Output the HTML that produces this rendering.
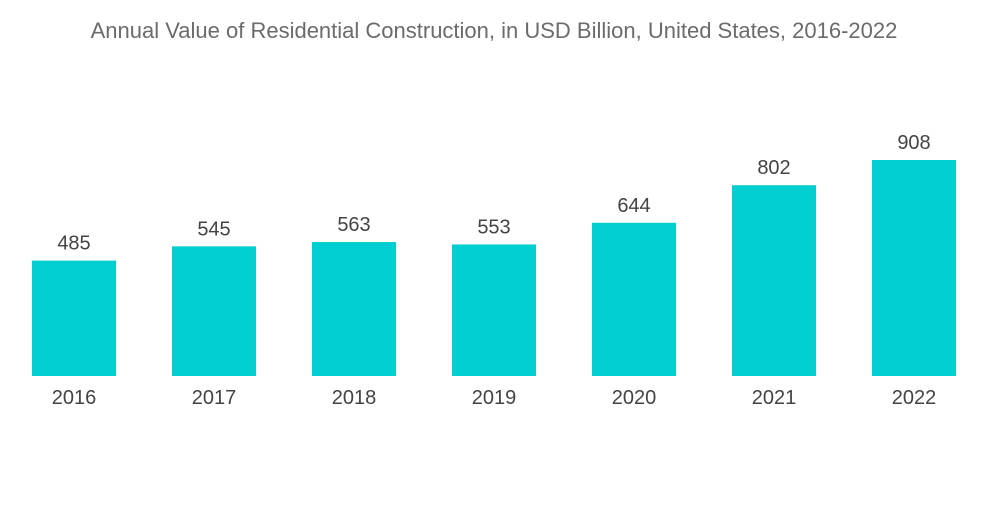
<!DOCTYPE html>
<html><head><meta charset="utf-8">
<style>
html,body{margin:0;padding:0;background:#fff;}
body{width:1000px;height:504px;overflow:hidden;font-family:"Liberation Sans",sans-serif;}
</style></head>
<body>
<svg id="chart" width="1000" height="504" xmlns="http://www.w3.org/2000/svg">
<text x="494" y="38" text-anchor="middle" font-family="Liberation Sans, sans-serif" font-size="22" fill="#6b6b6b">Annual Value of Residential Construction, in USD Billion, United States, 2016-2022</text>
<g id="bars"></g>
</svg>
<script>
const categories = ["2016","2017","2018","2019","2020","2021","2022"];
const values = [485,545,563,553,644,802,908];
const labels = ["485","545","563","553","644","802","908"];

const baseY = 376, topY = 160, maxV = 908;
function y(v){ return baseY - (v/maxV)*(baseY-topY); }
function x(i){ return 32 + i*140; }
const bw = 84;
const g = document.getElementById('bars');
const NS = "http://www.w3.org/2000/svg";
categories.forEach((c,i)=>{
  const r = document.createElementNS(NS,'rect');
  
  
  r.setAttribute('x', x(i)); r.setAttribute('y', y(values[i]));
  r.setAttribute('width', bw); r.setAttribute('height', baseY - y(values[i]));
  r.setAttribute('fill', '#00ced1');
  g.appendChild(r);
  const t = document.createElementNS(NS,'text');
  
  
  t.setAttribute('x', x(i)+bw/2); t.setAttribute('y', y(values[i]) - 11);
  t.setAttribute('text-anchor','middle'); t.setAttribute('font-size','20');
  t.setAttribute('fill','#444');
  t.textContent = labels[i];
  g.appendChild(t);
  const xl = document.createElementNS(NS,'text');
  
  
  xl.setAttribute('x', x(i)+bw/2); xl.setAttribute('y', 404);
  xl.setAttribute('text-anchor','middle'); xl.setAttribute('font-size','20');
  xl.setAttribute('fill','#444');
  xl.textContent = c;
  g.appendChild(xl);
});
</script>
</body></html>
